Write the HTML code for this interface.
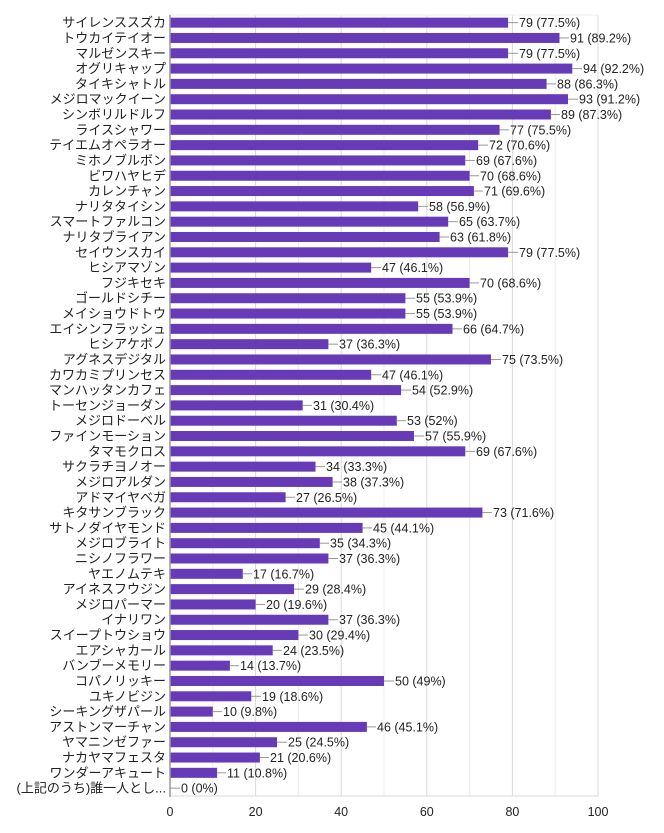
<!DOCTYPE html>
<html><head><meta charset="utf-8"><style>
body{margin:0;background:#fff}
svg{display:block}
.l{font-family:"Liberation Sans","Noto Sans CJK JP",sans-serif;font-size:13px;fill:#222;text-anchor:end}
.v{font-family:"Liberation Sans",sans-serif;font-size:12.5px;fill:#222}
rect{fill:#673ab7}
line.c{stroke:#999;stroke-width:1}
</style></head><body>
<svg width="664" height="833" xmlns="http://www.w3.org/2000/svg">
<g stroke="#ececec" stroke-width="1">
<line x1="212.8" y1="15" x2="212.8" y2="796"/><line x1="298.4" y1="15" x2="298.4" y2="796"/><line x1="384" y1="15" x2="384" y2="796"/><line x1="469.6" y1="15" x2="469.6" y2="796"/><line x1="555.2" y1="15" x2="555.2" y2="796"/>
</g>
<g stroke="#d8d8d8" stroke-width="1">
<line x1="255.6" y1="15" x2="255.6" y2="796"/><line x1="341.2" y1="15" x2="341.2" y2="796"/><line x1="426.8" y1="15" x2="426.8" y2="796"/><line x1="512.4" y1="15" x2="512.4" y2="796"/><line x1="598" y1="15" x2="598" y2="796"/>
<line x1="170" y1="796" x2="598" y2="796"/>
<line x1="170" y1="15" x2="598" y2="15" stroke="#eee"/>
</g>
<g id="rows">
<g transform="translate(0,22.65)"><text class="l" x="166" y="4.5">サイレンススズカ</text><rect x="170" y="-5" width="338.1" height="10"/><line class="c" x1="508.1" y1="0" x2="518" y2="0"/><text class="v" x="519" y="4.5">79 (77.5%)</text></g>
<g transform="translate(0,37.96)"><text class="l" x="166" y="4.5">トウカイテイオー</text><rect x="170" y="-5" width="389.5" height="10"/><line class="c" x1="559.5" y1="0" x2="569" y2="0"/><text class="v" x="570" y="4.5">91 (89.2%)</text></g>
<g transform="translate(0,53.27)"><text class="l" x="166" y="4.5">マルゼンスキー</text><rect x="170" y="-5" width="338.1" height="10"/><line class="c" x1="508.1" y1="0" x2="518" y2="0"/><text class="v" x="519" y="4.5">79 (77.5%)</text></g>
<g transform="translate(0,68.58)"><text class="l" x="166" y="4.5">オグリキャップ</text><rect x="170" y="-5" width="402.3" height="10"/><line class="c" x1="572.3" y1="0" x2="582" y2="0"/><text class="v" x="583" y="4.5">94 (92.2%)</text></g>
<g transform="translate(0,83.89)"><text class="l" x="166" y="4.5">タイキシャトル</text><rect x="170" y="-5" width="376.6" height="10"/><line class="c" x1="546.6" y1="0" x2="556" y2="0"/><text class="v" x="557" y="4.5">88 (86.3%)</text></g>
<g transform="translate(0,99.2)"><text class="l" x="166" y="4.5">メジロマックイーン</text><rect x="170" y="-5" width="398" height="10"/><line class="c" x1="568" y1="0" x2="578" y2="0"/><text class="v" x="579" y="4.5">93 (91.2%)</text></g>
<g transform="translate(0,114.51)"><text class="l" x="166" y="4.5">シンボリルドルフ</text><rect x="170" y="-5" width="380.9" height="10"/><line class="c" x1="550.9" y1="0" x2="560" y2="0"/><text class="v" x="561" y="4.5">89 (87.3%)</text></g>
<g transform="translate(0,129.82)"><text class="l" x="166" y="4.5">ライスシャワー</text><rect x="170" y="-5" width="329.6" height="10"/><line class="c" x1="499.6" y1="0" x2="509" y2="0"/><text class="v" x="510" y="4.5">77 (75.5%)</text></g>
<g transform="translate(0,145.13)"><text class="l" x="166" y="4.5">テイエムオペラオー</text><rect x="170" y="-5" width="308.2" height="10"/><line class="c" x1="478.2" y1="0" x2="488" y2="0"/><text class="v" x="489" y="4.5">72 (70.6%)</text></g>
<g transform="translate(0,160.44)"><text class="l" x="166" y="4.5">ミホノブルボン</text><rect x="170" y="-5" width="295.3" height="10"/><line class="c" x1="465.3" y1="0" x2="475" y2="0"/><text class="v" x="476" y="4.5">69 (67.6%)</text></g>
<g transform="translate(0,175.75)"><text class="l" x="166" y="4.5">ビワハヤヒデ</text><rect x="170" y="-5" width="299.6" height="10"/><line class="c" x1="469.6" y1="0" x2="479" y2="0"/><text class="v" x="480" y="4.5">70 (68.6%)</text></g>
<g transform="translate(0,191.06)"><text class="l" x="166" y="4.5">カレンチャン</text><rect x="170" y="-5" width="303.9" height="10"/><line class="c" x1="473.9" y1="0" x2="483" y2="0"/><text class="v" x="484" y="4.5">71 (69.6%)</text></g>
<g transform="translate(0,206.37)"><text class="l" x="166" y="4.5">ナリタタイシン</text><rect x="170" y="-5" width="248.2" height="10"/><line class="c" x1="418.2" y1="0" x2="428" y2="0"/><text class="v" x="429" y="4.5">58 (56.9%)</text></g>
<g transform="translate(0,221.68)"><text class="l" x="166" y="4.5">スマートファルコン</text><rect x="170" y="-5" width="278.2" height="10"/><line class="c" x1="448.2" y1="0" x2="458" y2="0"/><text class="v" x="459" y="4.5">65 (63.7%)</text></g>
<g transform="translate(0,236.99)"><text class="l" x="166" y="4.5">ナリタブライアン</text><rect x="170" y="-5" width="269.6" height="10"/><line class="c" x1="439.6" y1="0" x2="449" y2="0"/><text class="v" x="450" y="4.5">63 (61.8%)</text></g>
<g transform="translate(0,252.3)"><text class="l" x="166" y="4.5">セイウンスカイ</text><rect x="170" y="-5" width="338.1" height="10"/><line class="c" x1="508.1" y1="0" x2="518" y2="0"/><text class="v" x="519" y="4.5">79 (77.5%)</text></g>
<g transform="translate(0,267.61)"><text class="l" x="166" y="4.5">ヒシアマゾン</text><rect x="170" y="-5" width="201.2" height="10"/><line class="c" x1="371.2" y1="0" x2="381" y2="0"/><text class="v" x="382" y="4.5">47 (46.1%)</text></g>
<g transform="translate(0,282.92)"><text class="l" x="166" y="4.5">フジキセキ</text><rect x="170" y="-5" width="299.6" height="10"/><line class="c" x1="469.6" y1="0" x2="479" y2="0"/><text class="v" x="480" y="4.5">70 (68.6%)</text></g>
<g transform="translate(0,298.23)"><text class="l" x="166" y="4.5">ゴールドシチー</text><rect x="170" y="-5" width="235.4" height="10"/><line class="c" x1="405.4" y1="0" x2="415" y2="0"/><text class="v" x="416" y="4.5">55 (53.9%)</text></g>
<g transform="translate(0,313.54)"><text class="l" x="166" y="4.5">メイショウドトウ</text><rect x="170" y="-5" width="235.4" height="10"/><line class="c" x1="405.4" y1="0" x2="415" y2="0"/><text class="v" x="416" y="4.5">55 (53.9%)</text></g>
<g transform="translate(0,328.85)"><text class="l" x="166" y="4.5">エイシンフラッシュ</text><rect x="170" y="-5" width="282.5" height="10"/><line class="c" x1="452.5" y1="0" x2="462" y2="0"/><text class="v" x="463" y="4.5">66 (64.7%)</text></g>
<g transform="translate(0,344.16)"><text class="l" x="166" y="4.5">ヒシアケボノ</text><rect x="170" y="-5" width="158.4" height="10"/><line class="c" x1="328.4" y1="0" x2="338" y2="0"/><text class="v" x="339" y="4.5">37 (36.3%)</text></g>
<g transform="translate(0,359.47)"><text class="l" x="166" y="4.5">アグネスデジタル</text><rect x="170" y="-5" width="321" height="10"/><line class="c" x1="491" y1="0" x2="501" y2="0"/><text class="v" x="502" y="4.5">75 (73.5%)</text></g>
<g transform="translate(0,374.78)"><text class="l" x="166" y="4.5">カワカミプリンセス</text><rect x="170" y="-5" width="201.2" height="10"/><line class="c" x1="371.2" y1="0" x2="381" y2="0"/><text class="v" x="382" y="4.5">47 (46.1%)</text></g>
<g transform="translate(0,390.09)"><text class="l" x="166" y="4.5">マンハッタンカフェ</text><rect x="170" y="-5" width="231.1" height="10"/><line class="c" x1="401.1" y1="0" x2="411" y2="0"/><text class="v" x="412" y="4.5">54 (52.9%)</text></g>
<g transform="translate(0,405.4)"><text class="l" x="166" y="4.5">トーセンジョーダン</text><rect x="170" y="-5" width="132.7" height="10"/><line class="c" x1="302.7" y1="0" x2="312" y2="0"/><text class="v" x="313" y="4.5">31 (30.4%)</text></g>
<g transform="translate(0,420.71)"><text class="l" x="166" y="4.5">メジロドーベル</text><rect x="170" y="-5" width="226.8" height="10"/><line class="c" x1="396.8" y1="0" x2="406" y2="0"/><text class="v" x="407" y="4.5">53 (52%)</text></g>
<g transform="translate(0,436.02)"><text class="l" x="166" y="4.5">ファインモーション</text><rect x="170" y="-5" width="244" height="10"/><line class="c" x1="414" y1="0" x2="424" y2="0"/><text class="v" x="425" y="4.5">57 (55.9%)</text></g>
<g transform="translate(0,451.33)"><text class="l" x="166" y="4.5">タマモクロス</text><rect x="170" y="-5" width="295.3" height="10"/><line class="c" x1="465.3" y1="0" x2="475" y2="0"/><text class="v" x="476" y="4.5">69 (67.6%)</text></g>
<g transform="translate(0,466.64)"><text class="l" x="166" y="4.5">サクラチヨノオー</text><rect x="170" y="-5" width="145.5" height="10"/><line class="c" x1="315.5" y1="0" x2="325" y2="0"/><text class="v" x="326" y="4.5">34 (33.3%)</text></g>
<g transform="translate(0,481.95)"><text class="l" x="166" y="4.5">メジロアルダン</text><rect x="170" y="-5" width="162.6" height="10"/><line class="c" x1="332.6" y1="0" x2="342" y2="0"/><text class="v" x="343" y="4.5">38 (37.3%)</text></g>
<g transform="translate(0,497.26)"><text class="l" x="166" y="4.5">アドマイヤベガ</text><rect x="170" y="-5" width="115.6" height="10"/><line class="c" x1="285.6" y1="0" x2="295" y2="0"/><text class="v" x="296" y="4.5">27 (26.5%)</text></g>
<g transform="translate(0,512.57)"><text class="l" x="166" y="4.5">キタサンブラック</text><rect x="170" y="-5" width="312.4" height="10"/><line class="c" x1="482.4" y1="0" x2="492" y2="0"/><text class="v" x="493" y="4.5">73 (71.6%)</text></g>
<g transform="translate(0,527.88)"><text class="l" x="166" y="4.5">サトノダイヤモンド</text><rect x="170" y="-5" width="192.6" height="10"/><line class="c" x1="362.6" y1="0" x2="372" y2="0"/><text class="v" x="373" y="4.5">45 (44.1%)</text></g>
<g transform="translate(0,543.19)"><text class="l" x="166" y="4.5">メジロブライト</text><rect x="170" y="-5" width="149.8" height="10"/><line class="c" x1="319.8" y1="0" x2="329" y2="0"/><text class="v" x="330" y="4.5">35 (34.3%)</text></g>
<g transform="translate(0,558.5)"><text class="l" x="166" y="4.5">ニシノフラワー</text><rect x="170" y="-5" width="158.4" height="10"/><line class="c" x1="328.4" y1="0" x2="338" y2="0"/><text class="v" x="339" y="4.5">37 (36.3%)</text></g>
<g transform="translate(0,573.81)"><text class="l" x="166" y="4.5">ヤエノムテキ</text><rect x="170" y="-5" width="72.8" height="10"/><line class="c" x1="242.8" y1="0" x2="252" y2="0"/><text class="v" x="253" y="4.5">17 (16.7%)</text></g>
<g transform="translate(0,589.12)"><text class="l" x="166" y="4.5">アイネスフウジン</text><rect x="170" y="-5" width="124.1" height="10"/><line class="c" x1="294.1" y1="0" x2="304" y2="0"/><text class="v" x="305" y="4.5">29 (28.4%)</text></g>
<g transform="translate(0,604.43)"><text class="l" x="166" y="4.5">メジロパーマー</text><rect x="170" y="-5" width="85.6" height="10"/><line class="c" x1="255.6" y1="0" x2="265" y2="0"/><text class="v" x="266" y="4.5">20 (19.6%)</text></g>
<g transform="translate(0,619.74)"><text class="l" x="166" y="4.5">イナリワン</text><rect x="170" y="-5" width="158.4" height="10"/><line class="c" x1="328.4" y1="0" x2="338" y2="0"/><text class="v" x="339" y="4.5">37 (36.3%)</text></g>
<g transform="translate(0,635.05)"><text class="l" x="166" y="4.5">スイープトウショウ</text><rect x="170" y="-5" width="128.4" height="10"/><line class="c" x1="298.4" y1="0" x2="308" y2="0"/><text class="v" x="309" y="4.5">30 (29.4%)</text></g>
<g transform="translate(0,650.36)"><text class="l" x="166" y="4.5">エアシャカール</text><rect x="170" y="-5" width="102.7" height="10"/><line class="c" x1="272.7" y1="0" x2="282" y2="0"/><text class="v" x="283" y="4.5">24 (23.5%)</text></g>
<g transform="translate(0,665.67)"><text class="l" x="166" y="4.5">バンブーメモリー</text><rect x="170" y="-5" width="59.9" height="10"/><line class="c" x1="229.9" y1="0" x2="239" y2="0"/><text class="v" x="240" y="4.5">14 (13.7%)</text></g>
<g transform="translate(0,680.98)"><text class="l" x="166" y="4.5">コパノリッキー</text><rect x="170" y="-5" width="214" height="10"/><line class="c" x1="384" y1="0" x2="394" y2="0"/><text class="v" x="395" y="4.5">50 (49%)</text></g>
<g transform="translate(0,696.29)"><text class="l" x="166" y="4.5">ユキノビジン</text><rect x="170" y="-5" width="81.3" height="10"/><line class="c" x1="251.3" y1="0" x2="261" y2="0"/><text class="v" x="262" y="4.5">19 (18.6%)</text></g>
<g transform="translate(0,711.6)"><text class="l" x="166" y="4.5">シーキングザパール</text><rect x="170" y="-5" width="42.8" height="10"/><line class="c" x1="212.8" y1="0" x2="222" y2="0"/><text class="v" x="223" y="4.5">10 (9.8%)</text></g>
<g transform="translate(0,726.91)"><text class="l" x="166" y="4.5">アストンマーチャン</text><rect x="170" y="-5" width="196.9" height="10"/><line class="c" x1="366.9" y1="0" x2="376" y2="0"/><text class="v" x="377" y="4.5">46 (45.1%)</text></g>
<g transform="translate(0,742.22)"><text class="l" x="166" y="4.5">ヤマニンゼファー</text><rect x="170" y="-5" width="107" height="10"/><line class="c" x1="277" y1="0" x2="287" y2="0"/><text class="v" x="288" y="4.5">25 (24.5%)</text></g>
<g transform="translate(0,757.53)"><text class="l" x="166" y="4.5">ナカヤマフェスタ</text><rect x="170" y="-5" width="89.9" height="10"/><line class="c" x1="259.9" y1="0" x2="269" y2="0"/><text class="v" x="270" y="4.5">21 (20.6%)</text></g>
<g transform="translate(0,772.84)"><text class="l" x="166" y="4.5">ワンダーアキュート</text><rect x="170" y="-5" width="47.1" height="10"/><line class="c" x1="217.1" y1="0" x2="226" y2="0"/><text class="v" x="227" y="4.5">11 (10.8%)</text></g>
<g transform="translate(0,788.15)"><text class="l" x="166" y="4.5">(上記のうち)誰一人とし...</text><line class="c" x1="170" y1="0" x2="180" y2="0"/><text class="v" x="181" y="4.5">0 (0%)</text></g>
</g>
<line x1="170" y1="15" x2="170" y2="797" stroke="#999" stroke-width="1.5"/>
<g class="v" style="text-anchor:middle">
<text x="170" y="816" text-anchor="middle" class="v">0</text>
<text x="255.6" y="816" text-anchor="middle" class="v">20</text>
<text x="341.2" y="816" text-anchor="middle" class="v">40</text>
<text x="426.8" y="816" text-anchor="middle" class="v">60</text>
<text x="512.4" y="816" text-anchor="middle" class="v">80</text>
<text x="598" y="816" text-anchor="middle" class="v">100</text>
</g>
</svg>
</body></html>
